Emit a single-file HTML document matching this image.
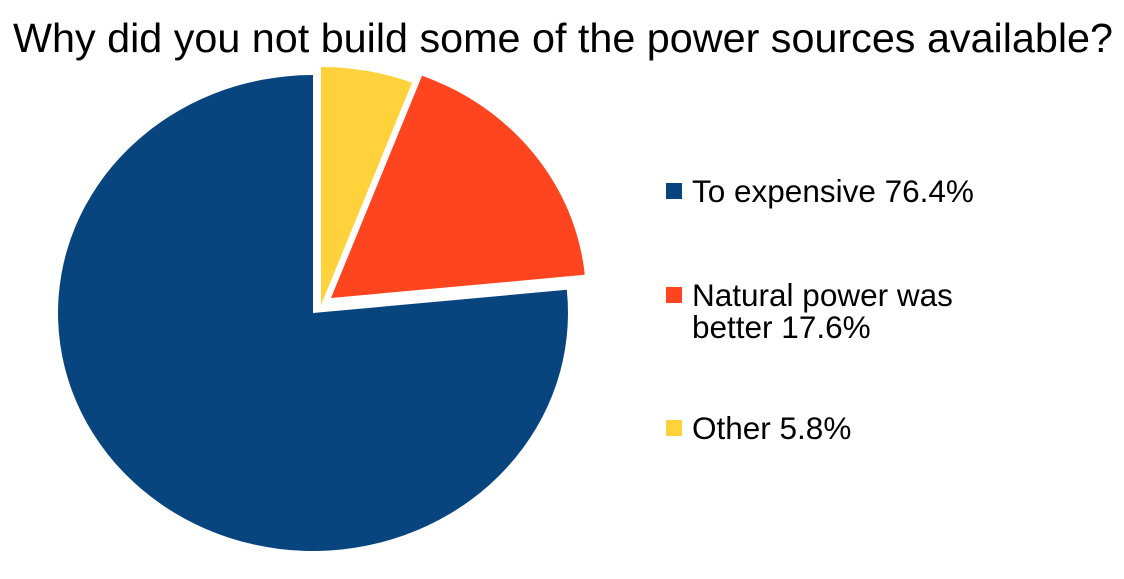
<!DOCTYPE html>
<html><head><meta charset="utf-8"><style>
body{margin:0;background:#fff;width:1124px;height:574px;overflow:hidden;font-family:"Liberation Sans",sans-serif}
</style></head><body>
<svg id="chart" width="1124" height="574" xmlns="http://www.w3.org/2000/svg">
<text x="563" y="52" text-anchor="middle" font-size="41" textLength="1100" lengthAdjust="spacingAndGlyphs" font-family="Liberation Sans, sans-serif" fill="#000">Why did you not build some of the power sources available?</text>
<g id="slices"></g>
<g id="legend"></g>
</svg>
<script>
const categories = ["To expensive", "Natural power was better", "Other"];
const values = [76.4, 17.6, 5.8];
const colors = ["#08457f", "#ff4420", "#ffd23c"];
const legendLines = [["To expensive 76.4%"], ["Natural power was", "better 17.6%"], ["Other 5.8%"]];
const offX = [0, 18, 8];
const offY = [0, -15, -8];

const NS = "http://www.w3.org/2000/svg";
const cx = 313, cy = 313, rx = 255, ry = 238;
const total = values.reduce((a, b) => a + b, 0);
const sg = document.getElementById("slices");
let angles = [];
let start = 0;
const order = [2, 1, 0];
order.forEach(i => {
  const sweep = values[i] / total * 2 * Math.PI;
  angles[i] = [start, start + sweep];
  start += sweep;
});
function pt(a, ox, oy) { return [cx + ox + rx * Math.sin(a), cy + oy - ry * Math.cos(a)]; }
values.forEach((v, i) => {
  const [a0, a1] = angles[i];
  const ox = offX[i], oy = offY[i];
  const p0 = pt(a0, ox, oy), p1 = pt(a1, ox, oy);
  const large = (a1 - a0) > Math.PI ? 1 : 0;
  const p = document.createElementNS(NS, "path");
  p.setAttribute("d", `M${cx+ox},${cy+oy} L${p0[0]},${p0[1]} A${rx},${ry} 0 ${large} 1 ${p1[0]},${p1[1]} Z`);
  p.setAttribute("fill", colors[i]);
  
  
  sg.appendChild(p);
});
const lg = document.getElementById("legend");
const legY = [191, 295, 428];
categories.forEach((c, i) => {
  const g = document.createElementNS(NS, "g");
  
  
  const r = document.createElementNS(NS, "rect");
  r.setAttribute("x", 666); r.setAttribute("y", legY[i] - 8);
  r.setAttribute("width", 16); r.setAttribute("height", 16);
  r.setAttribute("fill", colors[i]);
  g.appendChild(r);
  legendLines[i].forEach((line, j) => {
    const t = document.createElementNS(NS, "text");
    t.setAttribute("x", 692); t.setAttribute("y", legY[i] + 11 + j * 32);
    t.setAttribute("font-size", "31.5");
    t.setAttribute("font-family", "Liberation Sans, sans-serif");
    t.textContent = line;
    g.appendChild(t);
  });
  lg.appendChild(g);
});
</script>
</body></html>
